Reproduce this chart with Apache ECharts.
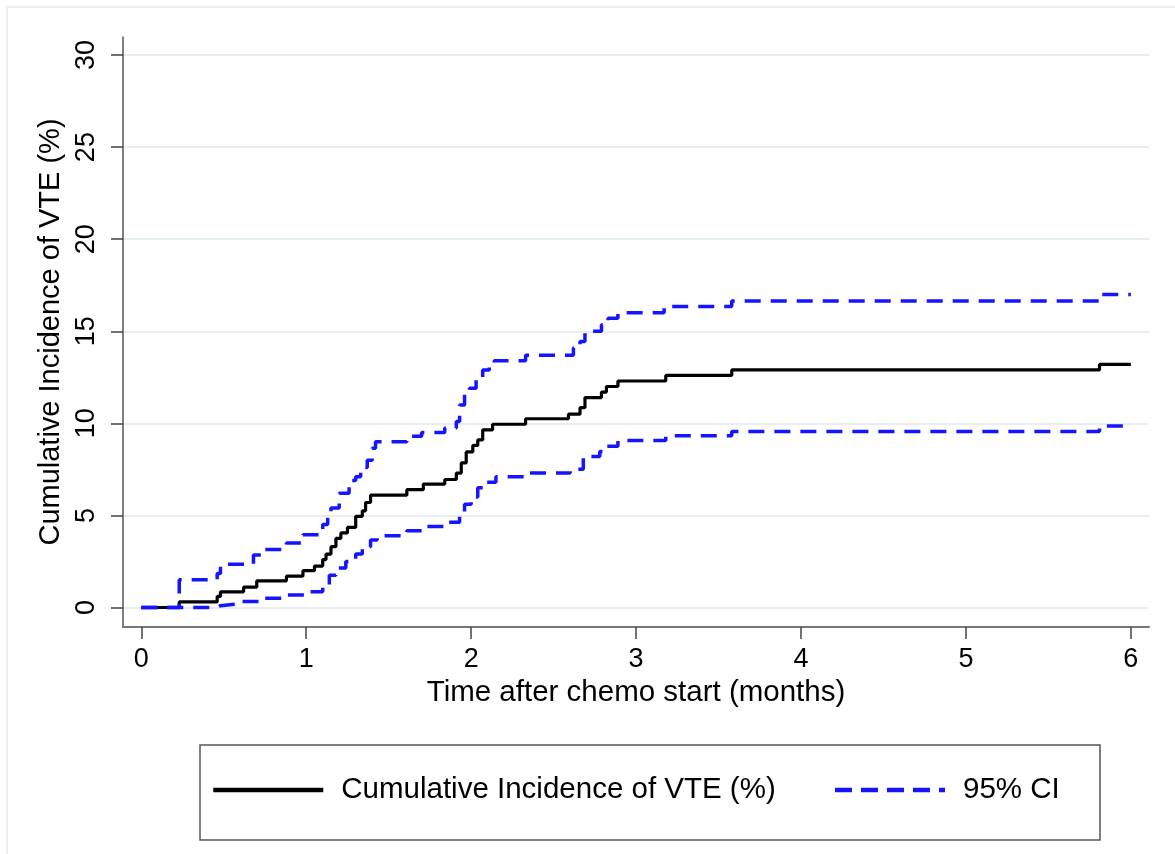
<!DOCTYPE html>
<html>
<head>
<meta charset="utf-8">
<script src="https://cdn.jsdelivr.net/npm/echarts@6/dist/echarts.min.js"></script>
<style>
html,body{margin:0;padding:0;background:#fff;}
#chart{width:1175px;height:854px;}
</style>
</head>
<body>
<div id="chart"></div>
<script>
// ---- data ----
const xTicks = [0, 1, 2, 3, 4, 5, 6];
const yTicks = [0, 5, 10, 15, 20, 25, 30];

const ciName = 'Cumulative Incidence of VTE (%)';
const bandName = '95% CI';

const ciTime  = [0, 0.23, 0.46, 0.48, 0.62, 0.70, 0.88, 0.98, 1.05, 1.10, 1.12, 1.15, 1.18, 1.21, 1.25, 1.30, 1.34, 1.36, 1.39, 1.61, 1.71, 1.84, 1.91, 1.94, 1.97, 2.01, 2.04, 2.07, 2.13, 2.33, 2.59, 2.66, 2.69, 2.79, 2.82, 2.89, 3.18, 3.58, 5.81, 6.0];
const ciValue = [0, 0.3, 0.6, 0.85, 1.1, 1.45, 1.7, 2.0, 2.25, 2.6, 2.9, 3.3, 3.75, 4.05, 4.35, 4.95, 5.25, 5.7, 6.1, 6.4, 6.7, 6.95, 7.3, 7.85, 8.45, 8.8, 9.1, 9.65, 9.95, 10.25, 10.5, 10.85, 11.4, 11.7, 12.0, 12.3, 12.6, 12.9, 13.2, 13.2];

const upperTime  = [0, 0.23, 0.46, 0.48, 0.68, 0.75, 0.88, 0.98, 1.10, 1.13, 1.15, 1.20, 1.26, 1.30, 1.33, 1.37, 1.40, 1.42, 1.61, 1.70, 1.84, 1.91, 1.93, 1.96, 1.99, 2.03, 2.07, 2.11, 2.14, 2.33, 2.62, 2.66, 2.69, 2.79, 2.83, 2.89, 3.17, 3.58, 5.81, 6.0];
const upperValue = [0, 1.5, 1.85, 2.35, 2.85, 3.15, 3.5, 3.95, 4.5, 5.0, 5.4, 6.2, 6.9, 7.1, 7.6, 8.0, 8.65, 9.0, 9.3, 9.5, 9.75, 10.1, 11.0, 11.6, 11.9, 12.4, 12.9, 13.2, 13.4, 13.7, 14.1, 14.45, 15.0, 15.35, 15.7, 16.0, 16.35, 16.65, 17.0, 17.0];

const lowerTime  = [0, 0.46, 0.48, 0.60, 0.72, 0.88, 1.0, 1.10, 1.14, 1.18, 1.24, 1.30, 1.34, 1.39, 1.43, 1.61, 1.71, 1.84, 1.93, 1.96, 2.0, 2.04, 2.08, 2.15, 2.34, 2.60, 2.68, 2.78, 2.82, 2.89, 3.18, 3.58, 5.81, 6.0];
const lowerValue = [0, 0.1, 0.2, 0.32, 0.5, 0.68, 0.86, 1.2, 1.75, 2.15, 2.5, 2.9, 3.3, 3.67, 3.9, 4.17, 4.4, 4.63, 5.1, 5.6, 6.0, 6.5, 6.8, 7.1, 7.3, 7.5, 8.2, 8.47, 8.75, 9.07, 9.32, 9.56, 9.86, 9.86];

// ---- build ----
const zip = (a, b) => a.map((v, i) => [v, b[i]]);
const font = '"Liberation Sans", Arial, Helvetica, sans-serif';
const blue = '#1414ff';

const chart = echarts.init(document.getElementById('chart'), null, {renderer: 'canvas'});
chart.setOption({
  backgroundColor: '#ffffff',
  animation: false,
  graphic: [
    {type: 'rect', shape: {x: 7, y: 7, width: 1200, height: 900}, style: {fill: 'none', stroke: '#e9f0f0', lineWidth: 2}, z: -10},
    {type: 'rect', shape: {x: 200, y: 745, width: 900, height: 95}, style: {fill: '#fff', stroke: '#555', lineWidth: 1.5}, z: -5}
  ],
  grid: {left: 123, right: 26, top: 37, bottom: 227, containLabel: false},
  legend: {
    data: [
      {name: ciName, itemStyle: {opacity: 0}, lineStyle: {color: '#000', width: 4.5}},
      {name: bandName, itemStyle: {opacity: 0}, lineStyle: {color: blue, width: 4.5, type: [17, 9]}}
    ],
    left: 211, top: 775,
    padding: 0,
    itemWidth: 110, itemHeight: 30, itemGap: 57,
    textStyle: {fontFamily: font, fontSize: 29.5, color: '#000', padding: [0, 0, 0, 13]},
    selectedMode: false
  },
  xAxis: {
    type: 'value', min: -0.111, max: 6.11,
    name: 'Time after chemo start (months)', nameLocation: 'middle', nameGap: 49,
    nameTextStyle: {fontFamily: font, fontSize: 29.5, color: '#000'},
    axisLine: {show: true, onZero: false, lineStyle: {color: '#777', width: 2}},
    axisTick: {show: true, customValues: xTicks, length: 12, inside: false, lineStyle: {color: '#444', width: 1.5}},
    axisLabel: {customValues: xTicks, margin: 19, fontFamily: font, fontSize: 27, color: '#000'},
    splitLine: {show: false}
  },
  yAxis: {
    type: 'value', min: -1.06, max: 30.98,
    name: ciName, nameLocation: 'middle', nameGap: 57, nameRotate: 90,
    nameTextStyle: {fontFamily: font, fontSize: 29, color: '#000'},
    axisLine: {show: true, onZero: false, lineStyle: {color: '#555', width: 1.5}},
    axisTick: {show: true, customValues: yTicks, length: 12, inside: false, lineStyle: {color: '#444', width: 1.5}},
    axisLabel: {customValues: yTicks, rotate: 90, margin: 23, fontFamily: font, fontSize: 27, color: '#000'},
    splitLine: {show: true, lineStyle: {color: '#e6eeef', width: 2}}
  },
  series: [
    {name: ciName, type: 'line', step: 'end', data: zip(ciTime, ciValue), symbol: 'none',
     lineStyle: {color: '#000', width: 3.2}, itemStyle: {color: '#000'}, z: 2},
    {name: bandName, type: 'line', step: 'end', data: zip(upperTime, upperValue), symbol: 'none',
     lineStyle: {color: blue, width: 3.5, type: [16, 10]}, itemStyle: {color: blue}, z: 3},
    {name: bandName, type: 'line', step: 'end', data: zip(lowerTime, lowerValue), symbol: 'none',
     lineStyle: {color: blue, width: 3.5, type: [16, 10]}, itemStyle: {color: blue}, z: 3}
  ]
});
</script>
</body>
</html>
